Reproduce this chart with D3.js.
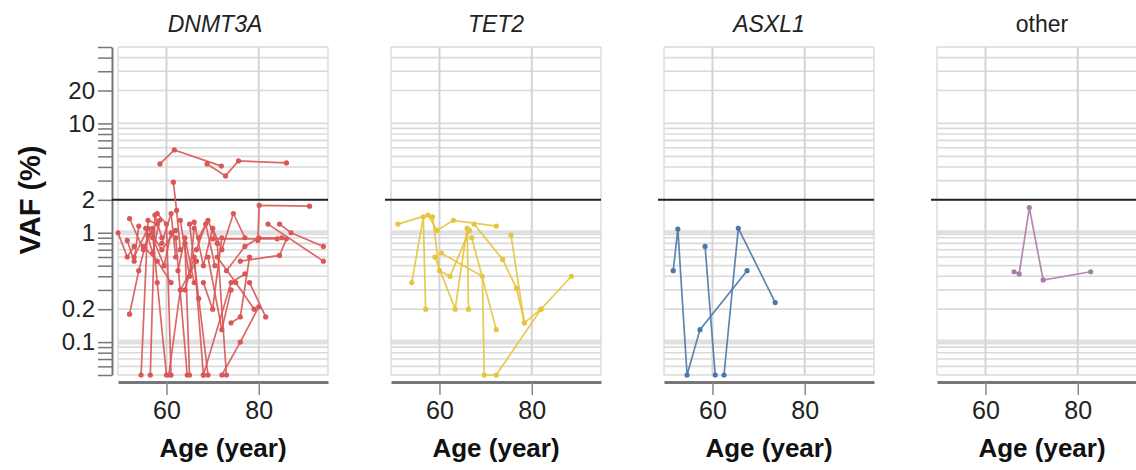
<!DOCTYPE html>
<html>
<head>
<meta charset="utf-8">
<script src="https://cdn.jsdelivr.net/npm/d3@7"></script>
<style>
  html, body { margin: 0; padding: 0; background: #fff; }
  svg { display: block; font-family: "Liberation Sans", Arial, sans-serif; }
</style>
</head>
<body>
<svg class="canvas" width="1136" height="470"></svg>
<script>
// panels, one per gene group
const genes = ["DNMT3A", "TET2", "ASXL1", "other"];
const geneColors = ["#d95757", "#e6c43c", "#4a78a8", "#a97ca9"];

// each trajectory: [age, VAF %] samples of one subject
const dnmt3a = [
  [[58.6, 4.26], [61.7, 5.72], [71.9, 4.07]],
  [[68.8, 4.26], [72.8, 3.31], [75.6, 4.54], [86.0, 4.35]],
  [[61.5, 2.9], [62.2, 1.6], [63, 0.7]],
  [[49.5, 1.0], [51.5, 0.6], [53, 0.75]],
  [[52, 0.18], [54, 0.45], [56, 0.95]],
  [[52, 1.35], [55, 0.7], [57, 1.1]],
  [[54.5, 0.05], [56, 1.3], [58, 1.2]],
  [[56.5, 0.05], [57.5, 1.45], [59, 0.9]],
  [[57, 1.0], [58, 0.35], [60, 0.05]],
  [[58, 1.5], [60, 1.2], [61, 0.05]],
  [[59, 0.8], [61, 1.5], [62, 0.6]],
  [[62, 0.9], [64.5, 0.05]],
  [[63, 1.3], [65, 0.4], [66, 1.1]],
  [[64, 0.3], [66, 0.6], [68, 0.05]],
  [[65, 1.2], [67, 0.25], [69, 0.05]],
  [[66, 1.25], [68, 0.5], [70, 1.1]],
  [[67, 0.9], [69, 1.3], [71, 0.8], [73, 0.05]],
  [[68, 0.35], [70, 0.2], [72, 0.9]],
  [[70, 1.1], [72, 0.7], [74.5, 1.5], [77, 0.9]],
  [[71, 0.6], [75, 0.35], [79, 0.2]],
  [[72, 0.05], [76, 0.1], [80, 0.21]],
  [[73, 0.45], [77, 0.75], [80, 0.9], [85, 0.9]],
  [[74, 0.15], [76, 0.17], [78, 0.6]],
  [[79.8, 0.85], [80.1, 1.78], [91, 1.75]],
  [[82, 1.2], [94, 0.55]],
  [[84.5, 1.2], [87, 1.0], [94, 0.75]],
  [[78, 0.35], [81.5, 0.17]],
  [[76, 0.55], [84.5, 0.62], [86, 0.88]],
  [[70, 0.88], [84, 0.88]],
  [[68, 0.05], [74, 0.35], [77, 0.42]],
  [[60.5, 0.05], [63, 0.3], [66.5, 0.55]],
  [[55, 0.75], [58, 0.55], [61, 0.35]],
  [[64, 0.8], [65, 0.05]],
  [[69, 0.6], [72, 0.13], [74, 0.3]],
  [[53, 0.6], [56, 1.1], [59, 0.7], [62, 1.05]],
  [[57, 0.9], [59.5, 0.5], [61, 1.0]],
  [[51.5, 0.85], [53, 0.55], [54, 1.15]],
  [[55.5, 1.1], [57, 0.65], [58.5, 1.3]],
  [[62.5, 0.45], [64, 0.9], [66, 0.35]],
  [[66.5, 0.7], [68.5, 1.2], [70.5, 0.5]]
];
const tet2 = [
  [[51, 1.2], [57.5, 1.45], [59.5, 1.05], [63, 1.3], [72.3, 1.15]],
  [[54, 0.35], [56.5, 1.4], [57, 0.2]],
  [[58.5, 1.4], [60, 0.45], [62.3, 0.4], [66.5, 1.05]],
  [[59, 0.6], [63.4, 0.2], [66, 1.1], [66.3, 0.2]],
  [[60.4, 0.65], [69.3, 0.4], [69.7, 0.05], [72.3, 0.05], [82, 0.2], [88.6, 0.4]],
  [[67.5, 1.2], [73.7, 0.57], [76.7, 0.31], [78.4, 0.15], [82, 0.2]],
  [[75.5, 0.95], [78.4, 0.15]],
  [[67, 0.9], [72.3, 0.13]]
];
const asxl1 = [
  [[51.5, 0.45], [52.5, 1.08], [54.5, 0.05], [57.3, 0.13], [67.5, 0.45]],
  [[58.4, 0.75], [60.6, 0.05]],
  [[62.5, 0.05], [65.6, 1.1], [73.6, 0.23]]
];
const other = [
  [[66.2, 0.44], [67.3, 0.42], [69.5, 1.7], [72.5, 0.37], [82.8, 0.44]]
];
const geneData = [dnmt3a, tet2, asxl1, other];

// axes
const ageDomain = [49.5, 95];
const ageTicks = [60, 80];
const vafDomain = [0.05, 50];
const vafLabels = [0.1, 0.2, 1, 2, 10, 20];
const vafThreshold = 2;

function render() {
  const svg = d3.select(".canvas");
  const top = 47;
  const bottom = 375;
  const panelWidth = 210;
  const panelStep = 273;
  const firstLeft = 118;

  const y = d3.scaleLog().domain(vafDomain).range([bottom, top]);
  const gridVals = y.ticks();
  const isLabel = d => vafLabels.some(l => Math.abs(l - d) < 1e-9);
  const isMajor = d => d === 1 || Math.abs(d - 0.1) < 1e-9;

  // y axis, only once on the left
  const yAxis = svg.append("g")
    .attr("transform", "translate(112,0)")
    .call(d3.axisLeft(y)
      .tickValues(gridVals)
      .tickSize(14)
      .tickSizeOuter(0)
      .tickPadding(3)
      .tickFormat(d => (isLabel(d) ? d3.format("~g")(d) : "")));
  yAxis.select(".domain").attr("stroke", "#777").attr("stroke-width", 2);
  yAxis.selectAll(".tick line").attr("stroke", "#777").attr("stroke-width", 1.5);
  yAxis.selectAll(".tick text")
    .attr("fill", "#222")
    .style("font-size", "24px");

  svg.append("text")
    .attr("transform", "translate(40,200) rotate(-90)")
    .attr("text-anchor", "middle")
    .attr("fill", "#111")
    .style("font-size", "29px")
    .style("font-weight", "bold")
    .text("VAF (%)");

  genes.forEach((gene, i) => {
    const left = firstLeft + i * panelStep;
    const color = geneColors[i];
    const g = svg.append("g").attr("transform", `translate(${left},0)`);
    const x = d3.scaleLinear().domain(ageDomain).range([0, panelWidth]);

    // horizontal grid
    g.selectAll(".hgrid")
      .data(gridVals)
      .enter()
      .append("line")
      .attr("x1", 0)
      .attr("x2", panelWidth)
      .attr("y1", d => y(d))
      .attr("y2", d => y(d))
      .attr("stroke", d => (isMajor(d) ? "#e0e0e0" : "#dadada"))
      .attr("stroke-width", d => (isMajor(d) ? 5 : 1.6));

    // vertical grid + panel borders
    g.selectAll(".vgrid")
      .data(ageTicks)
      .enter()
      .append("line")
      .attr("x1", d => x(d))
      .attr("x2", d => x(d))
      .attr("y1", top)
      .attr("y2", bottom)
      .attr("stroke", "#d4d4d4")
      .attr("stroke-width", 2);
    g.selectAll(".border")
      .data([0, panelWidth])
      .enter()
      .append("line")
      .attr("x1", d => d)
      .attr("x2", d => d)
      .attr("y1", top)
      .attr("y2", bottom)
      .attr("stroke", "#dcdcdc")
      .attr("stroke-width", 1.5);

    // 2% threshold
    g.append("line")
      .attr("x1", -6)
      .attr("x2", panelWidth)
      .attr("y1", y(vafThreshold))
      .attr("y2", y(vafThreshold))
      .attr("stroke", "#222")
      .attr("stroke-width", 2);

    // x axis
    const xAxis = g.append("g")
      .attr("transform", "translate(0,382)")
      .call(d3.axisBottom(x).tickValues(ageTicks).tickSize(13).tickSizeOuter(0).tickPadding(6));
    xAxis.select(".domain").attr("stroke", "#777").attr("stroke-width", 3);
    xAxis.selectAll(".tick line").attr("stroke", "#888").attr("stroke-width", 1.5);
    xAxis.selectAll(".tick text").attr("fill", "#222").style("font-size", "25px");

    g.append("text")
      .attr("x", panelWidth / 2)
      .attr("y", 457)
      .attr("text-anchor", "middle")
      .attr("fill", "#111")
      .style("font-size", "26px")
      .style("font-weight", "bold")
      .text("Age (year)");

    g.append("text")
      .attr("x", panelWidth / 2 - (i === 0 ? 8 : 0))
      .attr("y", 32)
      .attr("text-anchor", "middle")
      .attr("fill", "#222")
      .style("font-size", "23px")
      .style("font-style", gene === "other" ? "normal" : "italic")
      .text(gene);

    // trajectories
    const line = d3.line().x(d => x(d[0])).y(d => y(d[1]));
    const tracks = geneData[i];
    g.selectAll(".track")
      .data(tracks)
      .enter()
      .append("path")
      .attr("d", line)
      .attr("fill", "none")
      .attr("stroke", color)
      .attr("stroke-width", 1.7)
      .attr("opacity", 0.9);
    g.selectAll(".pt")
      .data(tracks.flat())
      .enter()
      .append("circle")
      .attr("cx", d => x(d[0]))
      .attr("cy", d => y(d[1]))
      .attr("r", 2.6)
      .attr("fill", color);
  });
}

window.onload = render;
</script>
</body>
</html>
